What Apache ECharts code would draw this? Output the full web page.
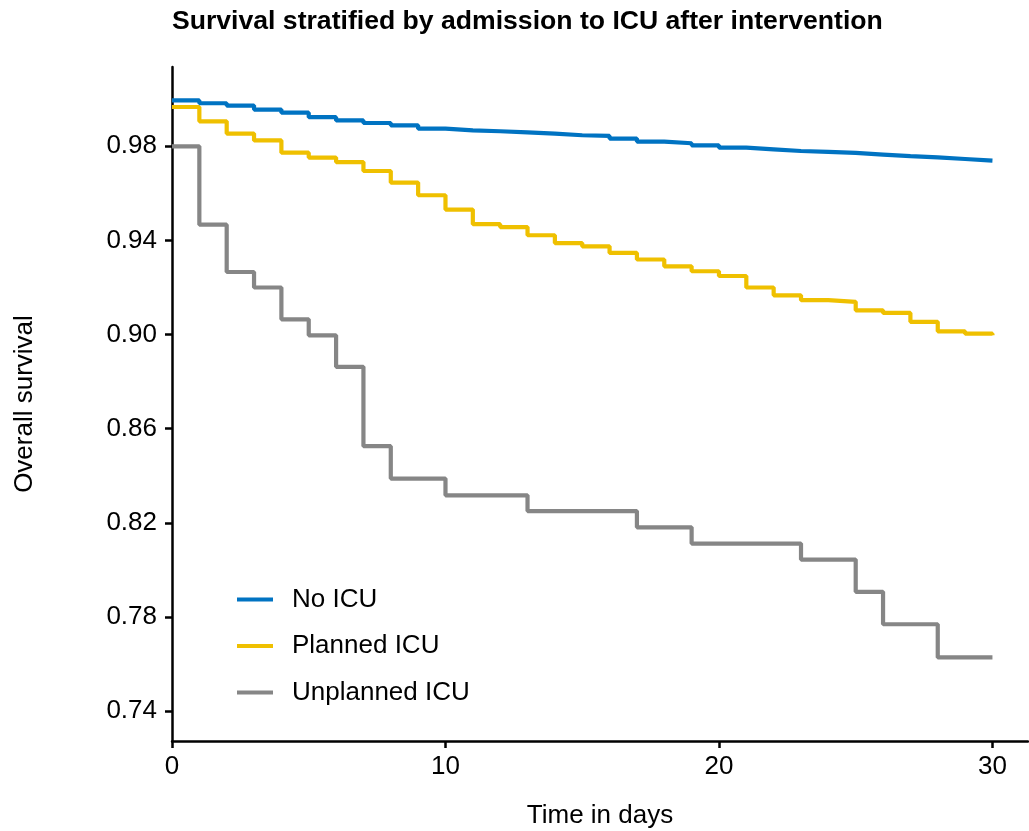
<!DOCTYPE html>
<html>
<head>
<meta charset="utf-8">
<script src="https://cdn.jsdelivr.net/npm/echarts@6/dist/echarts.min.js"></script>
<style>
html,body{margin:0;padding:0;background:#fff;}
#chart{width:1029px;height:831px;}
</style>
</head>
<body>
<div id="chart"></div>
<script>
// ---- data ----
const seriesNames = ["No ICU", "Planned ICU", "Unplanned ICU"];
const colors = ["#0073C2", "#EFC000", "#868686"];

const noIcuDays = [0,1,2,3,4,5,6,7,8,9,10,11,12,13,14,15,16,17,18,19,20,21,22,23,24,25,26,27,28,29,30];
const noIcuSurv = [0.9995,0.9983,0.9973,0.9956,0.9943,0.9924,0.9910,0.9899,0.9889,0.9875,0.9868,0.9864,0.9859,0.9854,0.9847,0.9844,0.9833,0.9820,0.9813,0.9804,0.9794,0.9787,0.9780,0.9776,0.9772,0.9765,0.9758,0.9753,0.9746,0.9739,0.9739];

const plannedDays = [0,1,2,3,4,5,6,7,8,9,10,11,12,13,14,15,16,17,18,19,20,21,22,23,24,25,26,27,28,29,30];
const plannedSurv = [0.9967,0.9906,0.9854,0.9825,0.9773,0.9752,0.9733,0.9695,0.9646,0.9592,0.9531,0.9469,0.9457,0.9422,0.9389,0.9375,0.9347,0.9319,0.9290,0.9269,0.9249,0.9200,0.9167,0.9146,0.9139,0.9103,0.9092,0.9054,0.9014,0.9004,0.8997];

const unplannedDays = [0,1,2,3,4,5,6,7,8,10,13,17,19,23,25,26,28,30];
const unplannedSurv = [0.980,0.9467,0.9266,0.920,0.9065,0.8997,0.8863,0.8526,0.8388,0.8317,0.825,0.8181,0.8112,0.8044,0.7907,0.7769,0.7628,0.7628];

const xTicks = [0, 10, 20, 30];
const yTicks = [0.74, 0.78, 0.82, 0.86, 0.90, 0.94, 0.98];

const titleText = "Survival stratified by admission to ICU after intervention";
const xTitle = "Time in days";
const yTitle = "Overall survival";

// ---- build ----
function pairs(xs, ys){ return xs.map((x,i)=>[x, ys[i]]); }
const allData = [pairs(noIcuDays,noIcuSurv), pairs(plannedDays,plannedSurv), pairs(unplannedDays,unplannedSurv)];

const FONT = "'Liberation Sans', Arial, sans-serif";
const chart = echarts.init(document.getElementById('chart'), null, {renderer:'canvas'});

const option = {
  backgroundColor: '#fff',
  animation: false,
  title: {
    text: titleText,
    left: 172, top: 8, padding: 0,
    textStyle: {fontFamily: FONT, fontSize: 26.6, fontWeight: 'bold', color: '#000'}
  },
  legend: {
    orient: 'vertical',
    left: 237, top: 585, padding: 0,
    itemWidth: 36, itemHeight: 4,
    itemGap: 17.5,
    icon: 'rect',
    data: seriesNames,
    textStyle: {fontFamily: FONT, fontSize: 26, color: '#000', lineHeight: 29, padding: [0,0,0,14]}
  },
  grid: {left: 172, right: 1, top: 67, bottom: 90, containLabel: false, outerBoundsMode: 'none'},
  xAxis: {
    type: 'value', min: 0, max: 31.3,
    name: xTitle, nameLocation: 'middle', nameGap: 62,
    nameTextStyle: {fontFamily: FONT, fontSize: 26, color: '#000'},
    axisLine: {show: true, lineStyle: {color: '#000', width: 2.5}},
    axisTick: {show: true, length: 7, lineStyle: {color: '#000', width: 2.5}, customValues: xTicks},
    axisLabel: {fontFamily: FONT, fontSize: 26, color: '#000', margin: 13, customValues: xTicks},
    splitLine: {show: false}
  },
  yAxis: {
    type: 'value', min: 0.7273, max: 1.0137,
    name: yTitle, nameLocation: 'middle', nameGap: 134,
    nameTextStyle: {fontFamily: FONT, fontSize: 26, color: '#000'},
    axisLine: {show: true, lineStyle: {color: '#000', width: 2.5}},
    axisTick: {show: true, length: 7, lineStyle: {color: '#000', width: 2.5}, customValues: yTicks},
    axisLabel: {fontFamily: FONT, fontSize: 26, color: '#000', margin: 15, customValues: yTicks,
      formatter: v => v.toFixed(2)},
    splitLine: {show: false}
  },
  series: seriesNames.map((n,i)=>({
    name: n, type: 'line', step: 'end', showSymbol: false, symbol: 'none',
    data: allData[i],
    lineStyle: {color: colors[i], width: 4.2},
    itemStyle: {color: colors[i]},
    z: 3 - i
  }))
};
chart.setOption(option);
</script>
</body>
</html>
